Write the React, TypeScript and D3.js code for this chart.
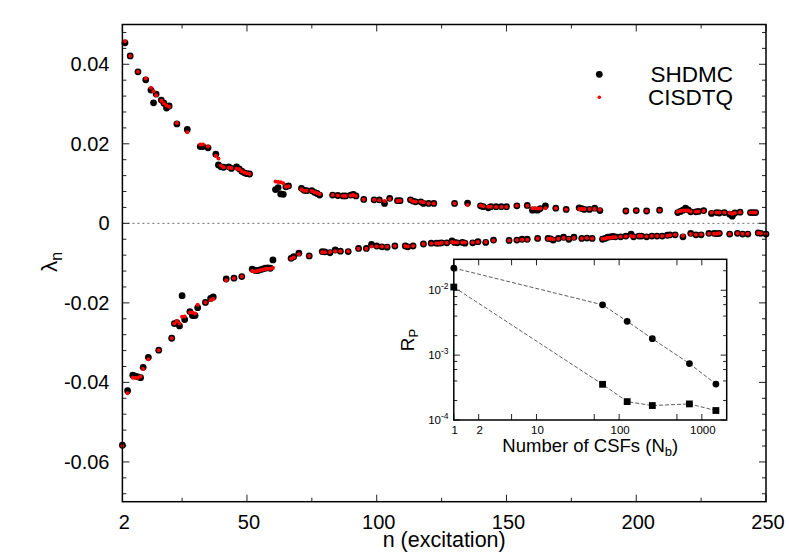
import React from 'react';
import * as d3 from 'd3';

// ---- main panel data (n, eigenvalue) ----
const upperN = [3,5,8,11,13,14,15,17,18,19,20,23,27,32,33,35,38,39,40,41,43,44,46,47,48,49,50,51,61,62,63,64,65,66,71,72,73,75,76,77,78,83,85,87,88,90,91,92,95,99,101,103,105,108,109,113,114,115,117,118,120,122,130,135,140,141,143,144,146,148,150,154,158,160,161,162,163,165,169,173,178,179,180,182,184,186,196,200,204,209,216,217,218,219,220,221,223,224,226,229,231,232,234,236,237,238,240,244,245,246];
const upperSHDMC = [0.0454,0.0421,0.0381,0.0361,0.0335,0.0303,0.0325,0.0310,0.0302,0.0290,0.0295,0.0250,0.0236,0.0193,0.0193,0.0190,0.0174,0.0147,0.0142,0.0141,0.0142,0.0138,0.0142,0.0137,0.0131,0.0127,0.0125,0.0124,0.0085,0.0090,0.0074,0.0073,0.0092,0.0094,0.0088,0.0083,0.0082,0.0082,0.0078,0.0075,0.0071,0.0071,0.0070,0.0069,0.0069,0.0071,0.0073,0.0069,0.0060,0.0059,0.0059,0.0050,0.0063,0.0057,0.0057,0.0059,0.0056,0.0054,0.0054,0.0050,0.0050,0.0050,0.0050,0.0051,0.0044,0.0042,0.0039,0.0042,0.0042,0.0042,0.0042,0.0044,0.0045,0.0033,0.0034,0.0033,0.0037,0.0044,0.0038,0.0035,0.0039,0.0037,0.0035,0.0035,0.0038,0.0032,0.0031,0.0032,0.0031,0.0033,0.0027,0.0030,0.0033,0.0038,0.0034,0.0029,0.0029,0.0030,0.0032,0.0025,0.0027,0.0026,0.0027,0.0023,0.0018,0.0026,0.0028,0.0027,0.0027,0.0027];
const upperCISDTQ = [0.0458,0.0421,0.0381,0.0364,0.0341,0.0332,0.0322,0.0308,0.0302,0.0296,0.0293,0.0252,0.0229,0.0198,0.0198,0.0193,0.0170,0.0163,0.0145,0.0141,0.0140,0.0139,0.0137,0.0136,0.0131,0.0128,0.0126,0.0124,0.0105,0.0104,0.0103,0.0101,0.0092,0.0093,0.0086,0.0082,0.0082,0.0081,0.0078,0.0076,0.0074,0.0071,0.0070,0.0069,0.0069,0.0070,0.0071,0.0069,0.0060,0.0059,0.0058,0.0056,0.0061,0.0056,0.0057,0.0059,0.0055,0.0054,0.0054,0.0053,0.0050,0.0050,0.0050,0.0046,0.0045,0.0043,0.0042,0.0042,0.0041,0.0041,0.0041,0.0044,0.0044,0.0038,0.0038,0.0037,0.0037,0.0038,0.0038,0.0035,0.0036,0.0036,0.0036,0.0036,0.0036,0.0034,0.0031,0.0032,0.0031,0.0033,0.0029,0.0031,0.0032,0.0032,0.0032,0.0030,0.0029,0.0030,0.0031,0.0027,0.0027,0.0027,0.0027,0.0026,0.0024,0.0026,0.0028,0.0027,0.0027,0.0027];

const lowerN = [2,4,6,7,8,9,10,12,16,21,22,23,24,25,26,28,29,30,31,34,36,37,42,45,48,52,53,54,55,56,57,58,59,60,67,68,70,74,79,80,82,84,86,89,93,96,98,100,102,104,107,111,112,114,118,121,123,124,125,127,129,130,131,133,134,137,139,142,145,151,154,156,158,162,166,167,168,170,172,174,176,179,181,183,187,188,189,190,191,192,194,196,198,199,201,202,204,206,208,210,212,213,215,218,221,223,225,228,230,231,232,236,239,241,243,247,248,250];
const lowerSHDMC = [-0.0558,-0.0421,-0.0382,-0.0384,-0.0386,-0.0388,-0.0362,-0.0337,-0.0319,-0.0289,-0.0252,-0.0250,-0.0258,-0.0182,-0.0242,-0.0222,-0.0232,-0.0232,-0.0212,-0.0199,-0.0189,-0.0185,-0.0140,-0.0138,-0.0134,-0.0115,-0.0118,-0.0119,-0.0117,-0.0115,-0.0113,-0.0112,-0.0113,-0.0092,-0.0088,-0.0084,-0.0075,-0.0082,-0.0071,-0.0072,-0.0074,-0.0067,-0.0070,-0.0071,-0.0063,-0.0063,-0.0053,-0.0057,-0.0059,-0.0060,-0.0057,-0.0057,-0.0059,-0.0057,-0.0052,-0.0050,-0.0050,-0.0050,-0.0049,-0.0049,-0.0044,-0.0048,-0.0049,-0.0048,-0.0050,-0.0049,-0.0046,-0.0048,-0.0042,-0.0043,-0.0042,-0.0040,-0.0040,-0.0038,-0.0038,-0.0039,-0.0042,-0.0038,-0.0035,-0.0040,-0.0035,-0.0038,-0.0037,-0.0038,-0.0040,-0.0038,-0.0035,-0.0034,-0.0033,-0.0034,-0.0034,-0.0032,-0.0027,-0.0034,-0.0032,-0.0032,-0.0034,-0.0032,-0.0032,-0.0032,-0.0030,-0.0029,-0.0029,-0.0034,-0.0025,-0.0029,-0.0029,-0.0025,-0.0025,-0.0026,-0.0025,-0.0027,-0.0025,-0.0027,-0.0027,-0.0024,-0.0025,-0.0027];
const lowerCISDTQ = [-0.0560,-0.0427,-0.0388,-0.0388,-0.0388,-0.0385,-0.0366,-0.0342,-0.0319,-0.0289,-0.0252,-0.0246,-0.0252,-0.0235,-0.0234,-0.0224,-0.0224,-0.0227,-0.0205,-0.0199,-0.0193,-0.0190,-0.0143,-0.0138,-0.0134,-0.0120,-0.0121,-0.0120,-0.0118,-0.0117,-0.0115,-0.0114,-0.0114,-0.0112,-0.0089,-0.0086,-0.0078,-0.0082,-0.0073,-0.0073,-0.0072,-0.0070,-0.0070,-0.0070,-0.0064,-0.0064,-0.0058,-0.0058,-0.0058,-0.0059,-0.0057,-0.0057,-0.0058,-0.0057,-0.0052,-0.0051,-0.0050,-0.0051,-0.0049,-0.0049,-0.0047,-0.0048,-0.0048,-0.0048,-0.0048,-0.0048,-0.0047,-0.0047,-0.0043,-0.0043,-0.0042,-0.0041,-0.0041,-0.0038,-0.0039,-0.0039,-0.0040,-0.0039,-0.0037,-0.0039,-0.0037,-0.0038,-0.0037,-0.0038,-0.0039,-0.0038,-0.0036,-0.0036,-0.0035,-0.0035,-0.0034,-0.0033,-0.0032,-0.0033,-0.0032,-0.0032,-0.0033,-0.0032,-0.0032,-0.0032,-0.0031,-0.0030,-0.0029,-0.0031,-0.0027,-0.0029,-0.0028,-0.0026,-0.0026,-0.0026,-0.0025,-0.0027,-0.0025,-0.0026,-0.0026,-0.0024,-0.0025,-0.0026];

const xTickLabels = [2, 50, 100, 150, 200, 250];
const xMinorTicks = [25, 75, 125, 175, 225];
const yTickLabels = [0.04, 0.02, 0, -0.02, -0.04, -0.06];
const legendNames = ['SHDMC', 'CISDTQ'];

// ---- inset data ----
const insetN = [1, 63, 125, 252, 708, 1480];
const insetCircles = [0.022, 0.00597, 0.00332, 0.00179, 0.00074, 0.000358];
const insetSquares = [0.0112, 0.000355, 0.000192, 0.000167, 0.000177, 0.00014];
const insetXTickLabels = [1, 2, 10, 100, 1000];
const insetXMinor = [5, 50, 500];
const insetYTickExp = [-2, -3, -4];
const insetYMinor = [2e-4, 4e-4, 6e-4, 8e-4, 2e-3, 4e-3, 6e-3, 8e-3, 2e-2];

const FONT = '"Liberation Sans", Arial, Helvetica, sans-serif';

export default function App() {
  const L = 122.4, R = 766, T = 24.5, B = 501.7;
  const x = d3.scaleLinear().domain([2, 250]).range([L, R]);
  const y = d3.scaleLinear().domain([-0.07, 0.05]).range([B, T]);
  const yMinor = d3.range(-0.068, 0.0501, 0.004).filter(v => Math.abs(Math.round(v / 0.02) * 0.02 - v) > 1e-6);

  const iL = 453.8, iR = 726.7, iT = 259.3, iB = 420;
  const xi = d3.scaleLog().domain([1, 2000]).range([iL, iR]);
  const yi = d3.scaleLog().domain([1e-4, 0.03]).range([iB, iT]);
  const lineGen = d3.line<[number, number]>().x(d => xi(d[0])).y(d => yi(d[1]));
  const circPts = insetN.map((n, i) => [n, insetCircles[i]] as [number, number]);
  const sqPts = insetN.map((n, i) => [n, insetSquares[i]] as [number, number]);

  const maj = 7, mnr = 4;
  const imaj = 6, imnr = 3.5;

  return (
    <svg width={789} height={552} style={{ position: 'absolute', left: 0, top: 0, background: '#fff' }} fontFamily={FONT}>
      <rect x={0} y={0} width={789} height={552} fill="#fff" />
      {/* zero line */}
      <line x1={L} x2={R} y1={y(0)} y2={y(0)} stroke="#444" strokeWidth={0.8} strokeDasharray="2,3" />

      {/* ticks main */}
      <g stroke="#222" strokeWidth={1}>
        {yTickLabels.map(v => (
          <g key={'yt' + v}>
            <line x1={L} x2={L + maj} y1={y(v)} y2={y(v)} />
            <line x1={R} x2={R - maj} y1={y(v)} y2={y(v)} />
          </g>
        ))}
        {yMinor.map(v => (
          <g key={'ym' + v}>
            <line x1={L} x2={L + mnr} y1={y(v)} y2={y(v)} />
            <line x1={R} x2={R - mnr} y1={y(v)} y2={y(v)} />
          </g>
        ))}
        {xTickLabels.map(v => (
          <g key={'xt' + v}>
            <line x1={x(v)} x2={x(v)} y1={B} y2={B - maj} />
            <line x1={x(v)} x2={x(v)} y1={T} y2={T + maj} />
          </g>
        ))}
        {xMinorTicks.map(v => (
          <g key={'xm' + v}>
            <line x1={x(v)} x2={x(v)} y1={B} y2={B - mnr} />
            <line x1={x(v)} x2={x(v)} y1={T} y2={T + mnr} />
          </g>
        ))}
      </g>

      {/* data: black SHDMC */}
      <g fill="#000">
        {upperN.map((n, i) => <circle key={'ub' + i} cx={x(n)} cy={y(upperSHDMC[i])} r={3.4} />)}
        {lowerN.map((n, i) => <circle key={'lb' + i} cx={x(n)} cy={y(lowerSHDMC[i])} r={3.4} />)}
      </g>
      <g fill="#ff0000">
        {upperN.map((n, i) => <circle key={'ur' + i} cx={x(n)} cy={y(upperCISDTQ[i])} r={2} />)}
        {lowerN.map((n, i) => <circle key={'lr' + i} cx={x(n)} cy={y(lowerCISDTQ[i])} r={2} />)}
      </g>

      {/* frame */}
      <rect x={L} y={T} width={R - L} height={B - T} fill="none" stroke="#000" strokeWidth={1.5} />

      {/* tick labels */}
      <g fontSize={20} fill="#000">
        {yTickLabels.map(v => (
          <text key={'yl' + v} x={109.5} y={y(v)} dy="0.35em" textAnchor="end">{v === 0 ? '0' : String(v)}</text>
        ))}
        {xTickLabels.map(v => (
          <text key={'xl' + v} x={x(v) + 2} y={529} textAnchor="middle">{String(v)}</text>
        ))}
      </g>
      <text x={(L + R) / 2} y={547} textAnchor="middle" fontSize={21.5}>n (excitation)</text>
      <text transform={`translate(57,262) rotate(-90)`} textAnchor="middle" fontSize={22.5}>
        λ<tspan fontSize={16} dy={5}>n</tspan>
      </text>

      {/* legend */}
      <circle cx={599.3} cy={74.3} r={3.4} fill="#000" />
      <text x={733} y={81.5} textAnchor="end" fontSize={22.5}>{legendNames[0]}</text>
      <circle cx={599.3} cy={97.3} r={1.8} fill="#ff0000" />
      <text x={733} y={104.5} textAnchor="end" fontSize={22.5}>{legendNames[1]}</text>

      {/* inset */}
      <rect x={iL} y={iT} width={iR - iL} height={iB - iT} fill="#fff" stroke="none" />
      <g stroke="#222" strokeWidth={1}>
        {insetXTickLabels.map(v => (
          <g key={'ixt' + v}>
            <line x1={xi(v)} x2={xi(v)} y1={iB} y2={iB - imaj} />
            <line x1={xi(v)} x2={xi(v)} y1={iT} y2={iT + imaj} />
          </g>
        ))}
        {insetXMinor.map(v => (
          <g key={'ixm' + v}>
            <line x1={xi(v)} x2={xi(v)} y1={iB} y2={iB - imaj} />
            <line x1={xi(v)} x2={xi(v)} y1={iT} y2={iT + imaj} />
          </g>
        ))}
        {insetYTickExp.map(e => (
          <g key={'iyt' + e}>
            <line x1={iL} x2={iL + imaj} y1={yi(Math.pow(10, e))} y2={yi(Math.pow(10, e))} />
            <line x1={iR} x2={iR - imaj} y1={yi(Math.pow(10, e))} y2={yi(Math.pow(10, e))} />
          </g>
        ))}
        {insetYMinor.map(v => (
          <g key={'iym' + v}>
            <line x1={iL} x2={iL + imnr} y1={yi(v)} y2={yi(v)} />
            <line x1={iR} x2={iR - imnr} y1={yi(v)} y2={yi(v)} />
          </g>
        ))}
      </g>
      <path d={lineGen(circPts) || ''} fill="none" stroke="#333" strokeWidth={0.8} strokeDasharray="4,2" />
      <path d={lineGen(sqPts) || ''} fill="none" stroke="#333" strokeWidth={0.8} strokeDasharray="4,2" />
      {circPts.map((p, i) => <circle key={'ic' + i} cx={xi(p[0])} cy={yi(p[1])} r={3.4} fill="#000" />)}
      {sqPts.map((p, i) => <rect key={'is' + i} x={xi(p[0]) - 3.4} y={yi(p[1]) - 3.4} width={6.8} height={6.8} fill="#000" />)}
      <rect x={iL} y={iT} width={iR - iL} height={iB - iT} fill="none" stroke="#000" strokeWidth={1.5} />
      <g fontSize={11.5} fill="#000">
        {insetXTickLabels.map(v => (
          <text key={'ixl' + v} x={xi(v) + 1} y={434} textAnchor="middle">{String(v)}</text>
        ))}
        {insetYTickExp.map(e => (
          <text key={'iyl' + e} x={448.5} y={yi(Math.pow(10, e)) + 4} textAnchor="end">
            10<tspan fontSize={8.5} dy={-5}>{String(e)}</tspan>
          </text>
        ))}
      </g>
      <text x={(iL + iR) / 2} y={451.5} textAnchor="middle" fontSize={18.5}>
        Number of CSFs (N<tspan fontSize={13} dy={4}>b</tspan><tspan dy={-4}>)</tspan>
      </text>
      <text transform={`translate(414,340) rotate(-90)`} textAnchor="middle" fontSize={19}>
        R<tspan fontSize={13} dy={4}>P</tspan>
      </text>
    </svg>
  );
}
